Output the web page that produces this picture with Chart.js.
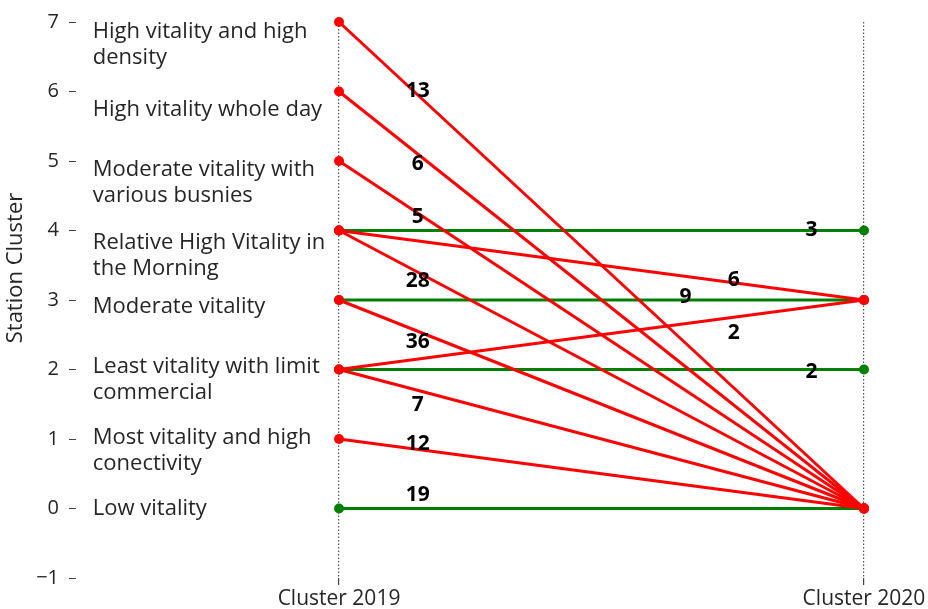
<!DOCTYPE html>
<html>
<head>
<meta charset="utf-8">
<script src="https://cdn.jsdelivr.net/npm/chart.js@4.4.1/dist/chart.umd.min.js"></script>
<style>
  html, body { margin: 0; padding: 0; background: #fff; }
  #wrap { width: 928px; height: 609px; }
</style>
</head>
<body>
<div id="wrap"><canvas id="c" width="928" height="609"></canvas></div>
<script>
// Period labels on the horizontal axis
const periods = ['Cluster 2019', 'Cluster 2020'];

// Names of the station clusters, indexed by cluster id (0..7)
const clusterNames = [
  'Low vitality',
  'Most vitality and high\nconectivity',
  'Least vitality with limit\ncommercial',
  'Moderate vitality',
  'Relative High Vitality in\nthe Morning',
  'Moderate vitality with\nvarious busnies',
  'High vitality whole day',
  'High vitality and high\ndensity'
];

// Transitions: cluster in 2019 -> cluster in 2020, and number of stations
const fromCluster   = [7, 6, 5, 4, 4, 4, 3, 3, 2, 2, 2, 1, 0];
const toCluster     = [0, 0, 0, 4, 3, 0, 3, 0, 3, 2, 0, 0, 0];
const stationCounts = [13, 6, 5, 3, 6, 28, 9, 36, 2, 2, 7, 12, 19];

// Where each count is written (x: 0 = 2019 .. 1 = 2020, y: cluster axis)
const countLabelAt = [
  [0.15, 6.00], [0.15, 4.95], [0.15, 4.19], [0.90, 4.00], [0.752, 3.29],
  [0.15, 3.28], [0.66, 3.05], [0.15, 2.39], [0.752, 2.53], [0.90, 1.96],
  [0.15, 1.49], [0.15, 0.93], [0.15, 0.19]
];

// Baseline of the first line of each cluster name, in axis units
const nameX = -0.469;
const nameBaseline = [-0.10, 0.93, 1.946, 2.819, 3.735, 4.78, 5.653, 6.769];

const RED = '#ff0000';
const GREEN = '#008000';
const TEXT = '#262626';
const FONT = '"Open Sans", "Noto Sans", sans-serif';

const datasets = fromCluster.map((f, i) => {
  const stay = f === toCluster[i];
  const col = stay ? GREEN : RED;
  return {
    data: [{ x: 0, y: f }, { x: 1, y: toCluster[i] }],
    borderColor: col,
    backgroundColor: col,
    pointBackgroundColor: col,
    pointBorderWidth: 0,
    pointRadius: 5,
    borderWidth: 3,
    clip: false,
    order: stay ? 1 : 0
  };
});

const annotate = {
  id: 'annotate',
  afterDatasetsDraw(chart) {
    const { ctx, scales: { x, y } } = chart;
    ctx.save();

    // station counts on the links
    ctx.font = 'bold 21px ' + FONT;
    ctx.fillStyle = '#000';
    ctx.textAlign = 'center';
    ctx.textBaseline = 'middle';
    stationCounts.forEach((n, i) => {
      const [px, py] = countLabelAt[i];
      ctx.fillText(String(n), x.getPixelForValue(px), y.getPixelForValue(py));
    });

    // cluster names next to the value ticks
    ctx.font = '22px ' + FONT;
    ctx.fillStyle = TEXT;
    ctx.textAlign = 'left';
    ctx.textBaseline = 'alphabetic';
    clusterNames.forEach((name, i) => {
      const bx = x.getPixelForValue(nameX);
      const by = y.getPixelForValue(nameBaseline[i]);
      name.split('\n').forEach((ln, k) => ctx.fillText(ln, bx, by + k * 26));
    });

    // vertical axis title
    ctx.translate(16, 268);
    ctx.rotate(-Math.PI / 2);
    ctx.textAlign = 'center';
    ctx.textBaseline = 'middle';
    ctx.font = '22px ' + FONT;
    ctx.fillText('Station Cluster', 0, 0);
    ctx.restore();
  }
};

new Chart(document.getElementById('c'), {
  type: 'line',
  data: { datasets },
  plugins: [annotate],
  options: {
    responsive: false,
    animation: false,
    layout: { padding: { left: 0, right: 64, top: 19, bottom: 0 } },
    plugins: { legend: { display: false }, tooltip: { enabled: false } },
    scales: {
      x: {
        type: 'linear',
        min: -0.501,
        max: 1,
        afterBuildTicks: s => { s.ticks = [{ value: 0 }, { value: 1 }]; },
        afterFit: s => { s.height = 31; },
        ticks: {
          callback: v => periods[v] ?? '',
          font: { family: FONT, size: 21 },
          color: TEXT,
          padding: 1,
          maxRotation: 0
        },
        grid: {
          color: '#555',
          lineWidth: 1.2,
          drawTicks: true,
          tickLength: 7,
          tickColor: '#444'
        },
        border: { display: false, dash: [1.5, 2] }
      },
      y: {
        type: 'linear',
        min: -1,
        max: 7,
        afterFit: s => { s.width = 76; },
        ticks: {
          stepSize: 1,
          callback: v => (v < 0 ? '\u2212' + Math.abs(v) : String(v)),
          font: { family: FONT, size: 20 },
          color: TEXT,
          padding: 10
        },
        grid: {
          drawOnChartArea: false,
          drawTicks: true,
          tickLength: 7,
          tickColor: '#444',
          lineWidth: 1
        },
        border: { display: false }
      }
    }
  }
});
</script>
</body>
</html>
